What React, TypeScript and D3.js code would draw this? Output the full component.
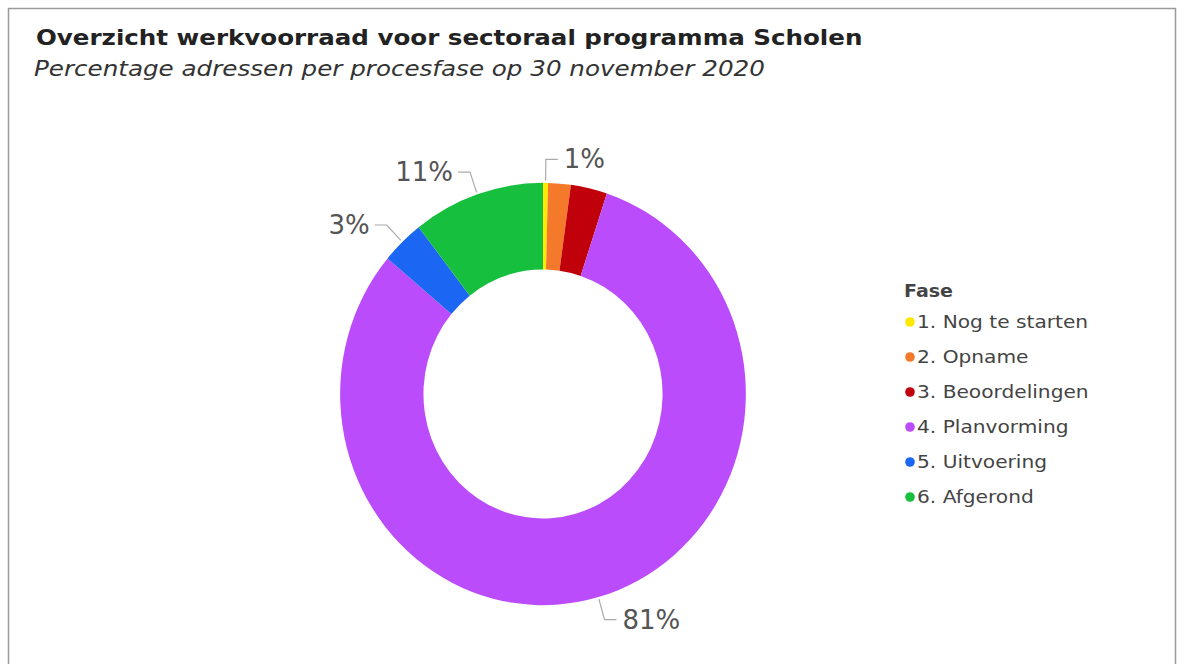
import React from 'react';
import * as d3 from 'd3';

const WIDTH = 1188;
const HEIGHT = 664;

// fases en aandeel (%) zoals
const phases = [
  '1. Nog te starten',
  '2. Opname',
  '3. Beoordelingen',
  '4. Planvorming',
  '5. Uitvoering',
  '6. Afgerond',
];
const values = [0.4, 1.8, 2.9, 81.0, 3.4, 10.5];
const labels = ['1%', '', '', '81%', '3%', '11%'];
const colors = ['#ffe900', '#f5792a', '#c0000a', '#bb4cfc', '#1b66f2', '#17bf3f'];

const cx = 543;
const cy = 394;
const outer = 207;
const inner = 122;
const sx = 0.98;
const sy = 1.02;

const App = () => {
  const pie = d3
    .pie<number>()
    .sort(null)
    .value((d) => d);
  const arcs = pie(values);
  const arc = d3.arc<d3.PieArcDatum<number>>().innerRadius(inner).outerRadius(outer);

  // punt op de rand (ellips) bij hoek a, straal r
  const pt = (a: number, r: number) => [cx + Math.sin(a) * r * sx, cy - Math.cos(a) * r * sy];

  return (
    <div style={{ position: 'absolute', left: 0, top: 0 }}>
      <svg width={WIDTH} height={HEIGHT} style={{ display: 'block' }} fontFamily="DejaVu Sans, Verdana, sans-serif">
        <rect x={0} y={0} width={WIDTH} height={HEIGHT} fill="#fff" />
        <rect x={8.5} y={8.5} width={1167} height={720} fill="none" stroke="#9a9a9a" strokeWidth={1.5} />
        <text transform="translate(36,45) scale(1.116,1)" fontSize={22} fontWeight="bold" fill="#222">
          Overzicht werkvoorraad voor sectoraal programma Scholen
        </text>
        <text transform="translate(34,76) scale(1.2,1)" fontSize={20.5} fontStyle="italic" fill="#333">
          Percentage adressen per procesfase op 30 november 2020
        </text>

        <g transform={`translate(${cx},${cy}) scale(${sx},${sy})`}>
          {arcs.map((a, i) => (
            <path key={i} d={arc(a) || ''} fill={colors[i]} />
          ))}
        </g>

        {arcs.map((a, i) => {
          if (!labels[i]) return null;
          const mid = (a.startAngle + a.endAngle) / 2;
          const [x0, y0] = pt(mid, outer + 2);
          const [x1, y1] = pt(mid, outer + 23);
          const right = Math.sin(mid) >= 0;
          const x2 = x1 + (right ? 12 : -12);
          return (
            <g key={`l-${i}`}>
              <polyline
                points={`${x0},${y0} ${x1},${y1} ${x2},${y1}`}
                fill="none"
                stroke="#aaa"
                strokeWidth={1.2}
              />
              <text
                x={x2 + (right ? 6 : -5)}
                y={y1 + 9}
                fontSize={26}
                fill="#555"
                textAnchor={right ? 'start' : 'end'}
              >
                {labels[i]}
              </text>
            </g>
          );
        })}

        <g>
          <text transform="translate(904,297) scale(1.12,1)" fontSize={17} fontWeight="bold" fill="#444">
            Fase
          </text>
          {phases.map((p, i) => (
            <g key={p} transform={`translate(0,${322 + i * 35})`}>
              <circle cx={910} cy={0} r={4.8} fill={colors[i]} />
              <text transform="translate(917,6) scale(1.12,1)" fontSize={18} fill="#444">
                {p}
              </text>
            </g>
          ))}
        </g>
      </svg>
    </div>
  );
};

export default App;
